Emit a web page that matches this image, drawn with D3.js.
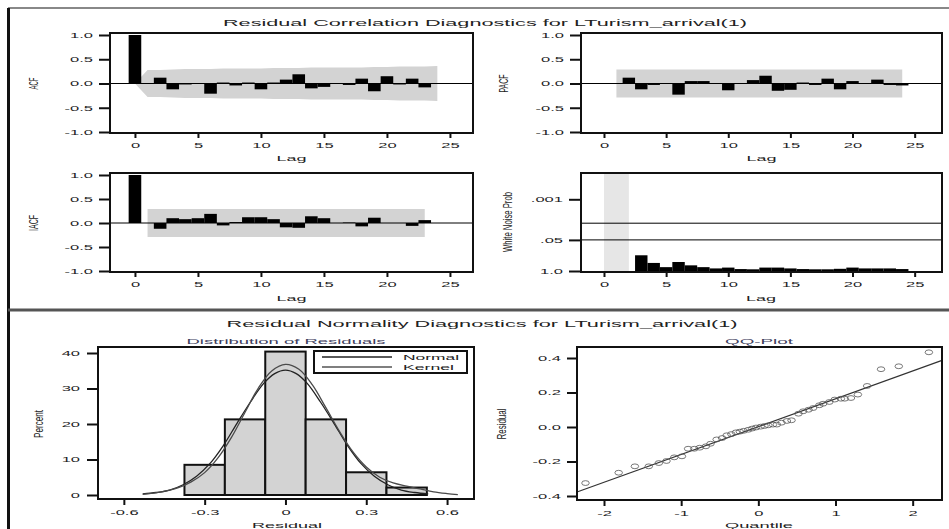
<!DOCTYPE html>
<html>
<head>
<meta charset="utf-8">
<script src="https://cdn.jsdelivr.net/npm/d3@7"></script>
<style>
  body { margin: 0; background: #fff; }
  text { font-family: "Liberation Sans", Arial, sans-serif; fill: #222; }
</style>
</head>
<body>
<div id="vis"></div>
<script>
// ---- values ----
var acfLags  = [0,1,2,3,4,5,6,7,8,9,10,11,12,13,14,15,16,17,18,19,20,21,22,23,24];
var acfVals  = [1.00,-0.01,0.12,-0.12,-0.02,0.01,-0.21,0.02,-0.04,0.02,-0.12,0.02,0.08,0.19,-0.10,-0.07,0.00,-0.03,0.10,-0.16,0.15,-0.02,0.10,-0.08,-0.01];
var acfBand  = [0,0.28,0.28,0.29,0.30,0.30,0.30,0.31,0.31,0.31,0.31,0.32,0.32,0.32,0.33,0.33,0.33,0.33,0.33,0.34,0.34,0.35,0.35,0.35,0.36];

var pacfLags = [1,2,3,4,5,6,7,8,9,10,11,12,13,14,15,16,17,18,19,20,21,22,23,24];
var pacfVals = [-0.01,0.12,-0.12,-0.03,0.01,-0.23,0.05,0.05,0.00,-0.14,0.01,0.07,0.16,-0.15,-0.13,0.02,-0.03,0.10,-0.12,0.05,0.01,0.08,-0.03,-0.04];
var pacfBand = [0.29,0.29];          // constant limit, lag 1 .. 24
var pacfBandLags = [1,24];

var iacfLags = [0,1,2,3,4,5,6,7,8,9,10,11,12,13,14,15,16,17,18,19,20,21,22,23];
var iacfVals = [1.00,0.00,-0.12,0.10,0.08,0.10,0.19,-0.05,0.02,0.12,0.12,0.08,-0.09,-0.10,0.14,0.10,0.00,0.01,-0.07,0.11,0.00,0.00,-0.06,0.06];
var iacfBand = [0.29,0.29];
var iacfBandLags = [1,23];

var wnLags  = [3,4,5,6,7,8,9,10,11,12,13,14,15,16,17,18,19,20,21,22,23,24];
var wnProb  = [0.22,0.46,0.69,0.42,0.58,0.69,0.78,0.72,0.83,0.85,0.72,0.72,0.78,0.83,0.85,0.85,0.81,0.72,0.78,0.78,0.78,0.83];
var wnShade = [0,2];
var wnLines = [0.01,0.05];

var binMid   = [-0.3,-0.15,0,0.15,0.3,0.45];
var binPct   = [8.5,21.3,40.4,21.3,6.4,2.1];
var binWidth = 0.15;

var normX = [-0.53,-0.48,-0.43,-0.38,-0.33,-0.28,-0.23,-0.18,-0.13,-0.08,-0.04,0,0.04,0.08,0.13,0.18,0.23,0.28,0.33,0.38,0.43,0.48,0.53];
var normY = [0.3,0.7,1.4,2.9,5.3,8.9,14.0,20.2,26.2,31.5,34.2,35.2,34.2,31.5,26.2,20.2,14.0,8.9,5.3,2.9,1.4,0.7,0.3];
var kernX = [-0.53,-0.46,-0.40,-0.35,-0.30,-0.25,-0.20,-0.15,-0.10,-0.05,0,0.05,0.10,0.15,0.20,0.25,0.30,0.35,0.40,0.45,0.50,0.55,0.60,0.64];
var kernY = [0.2,0.9,2.0,3.7,6.3,10.5,16.3,23.3,30.2,35.0,36.8,35.4,31.0,24.6,18.0,12.2,7.9,5.0,3.4,2.5,1.7,0.9,0.4,0.1];

var qqX = [-2.24,-1.81,-1.60,-1.42,-1.29,-1.19,-1.09,-0.99,-0.91,-0.83,-0.76,-0.68,-0.62,-0.54,-0.47,-0.41,-0.35,-0.29,-0.24,-0.19,-0.13,-0.08,-0.03,
           0.03,0.08,0.13,0.19,0.24,0.30,0.37,0.43,0.52,0.58,0.65,0.71,0.79,0.84,0.92,0.99,1.07,1.12,1.20,1.29,1.41,1.59,1.82,2.21];
var qqY = [-0.325,-0.265,-0.228,-0.228,-0.209,-0.197,-0.176,-0.170,-0.126,-0.126,-0.120,-0.112,-0.097,-0.072,-0.064,-0.048,-0.041,-0.031,-0.027,-0.022,-0.016,-0.009,-0.003,
           0.002,0.006,0.010,0.014,0.014,0.025,0.035,0.039,0.077,0.091,0.100,0.110,0.126,0.135,0.145,0.159,0.164,0.164,0.168,0.188,0.238,0.335,0.352,0.433];
var qqLineX = [-2.35,2.38];
var qqLineY = [-0.377,0.386];

var title1 = "Residual Correlation Diagnostics for LTurism_arrival(1)";
var title2 = "Residual Normality Diagnostics for LTurism_arrival(1)";

// ---- drawing ----
var W = 949, H = 529;
var svg = d3.select("#vis").append("svg").attr("width", W).attr("height", H);

// the source picture is stretched about 2.2x horizontally
var SX = 2.2;
function stretch(sel) {
  sel.each(function() {
    var L = this.getComputedTextLength();
    d3.select(this).attr("textLength", L * SX).attr("lengthAdjust", "spacingAndGlyphs");
  });
}

function label(x, y, str, fs, len, anchor, color) {
  return svg.append("text")
    .attr("x", x).attr("y", y)
    .attr("font-size", fs)
    .attr("text-anchor", anchor || "middle")
    .attr("textLength", len).attr("lengthAdjust", "spacingAndGlyphs")
    .style("fill", color || "#222")
    .text(str);
}

function vlabel(x, y, str, len) {
  return svg.append("text")
    .attr("transform", `translate(${x},${y}) rotate(-90) scale(1,1.7)`)
    .attr("font-size", 8)
    .attr("text-anchor", "middle")
    .attr("dominant-baseline", "central")
    .attr("textLength", len).attr("lengthAdjust", "spacingAndGlyphs")
    .text(str);
}

function styleAxis(g) {
  g.select(".domain").remove();
  g.selectAll(".tick line").attr("stroke", "#111").attr("stroke-width", 2);
  g.selectAll(".tick text").attr("font-size", 7.5).attr("fill", "#222").call(stretch);
}

function frame(x0, y0, x1, y1) {
  svg.append("rect")
    .attr("x", x0).attr("y", y0)
    .attr("width", x1 - x0).attr("height", y1 - y0)
    .attr("fill", "none").attr("stroke", "#111").attr("stroke-width", 2);
}

var fmt1 = d => d.toFixed(1);
var fmtInt = d => String(d);

// outer border lines
svg.append("line").attr("x1", 8).attr("x2", W).attr("y1", 8).attr("y2", 8).attr("stroke", "#888").attr("stroke-width", 2);
svg.append("line").attr("x1", 8.5).attr("x2", 8.5).attr("y1", 8).attr("y2", H).attr("stroke", "#111").attr("stroke-width", 3);
svg.append("line").attr("x1", 8).attr("x2", W).attr("y1", 310).attr("y2", 310).attr("stroke", "#555").attr("stroke-width", 3);

label(485, 26, title1, 9.5, 524);
label(482, 327, title2, 9.5, 511);

// scales for lag panels
var xL = d3.scaleLinear().domain([-1.98, 26.83]).range([110, 473]);
var xR = d3.scaleLinear().domain([-1.85, 27.2]).range([581, 942]);
var yTop = d3.scaleLinear().domain([-1, 1]).range([132, 35]);
var yMid = d3.scaleLinear().domain([-1, 1]).range([271, 175]);

function corrPanel(x, y, lags, vals, bandLags, band, box, name, nameLen, nameX, lagY) {
  var g = svg.append("g");
  g.append("path")
    .datum(bandLags)
    .attr("fill", "#d3d3d3")
    .attr("d", d3.area()
      .x(d => x(d))
      .y0((d, i) => y(-band[i]))
      .y1((d, i) => y(band[i])));

  g.selectAll("rect.bar")
    .data(lags)
    .join("rect")
      .attr("class", "bar")
      .attr("fill", "#000")
      .attr("x", d => x(d - 0.5))
      .attr("width", d => x(d + 0.5) - x(d - 0.5))
      .attr("y", (d, i) => y(Math.max(0, vals[i])))
      .attr("height", (d, i) => Math.abs(y(vals[i]) - y(0)));

  g.append("line")
    .attr("x1", box[0]).attr("x2", box[2])
    .attr("y1", y(0)).attr("y2", y(0))
    .attr("stroke", "#000").attr("stroke-width", 1);

  svg.append("g")
    .attr("transform", `translate(${box[0]},0)`)
    .call(d3.axisLeft(y).tickValues([-1, -0.5, 0, 0.5, 1]).tickFormat(fmt1).tickSize(11).tickPadding(6))
    .call(styleAxis);
  svg.append("g")
    .attr("transform", `translate(0,${box[3]})`)
    .call(d3.axisBottom(x).tickValues([0, 5, 10, 15, 20, 25]).tickFormat(fmtInt).tickSize(5).tickPadding(5))
    .call(styleAxis);

  frame(box[0], box[1], box[2], box[3]);
  vlabel(nameX, y(0), name, nameLen);
  label((box[0] + box[2]) / 2, lagY, "Lag", 7.5, 30);
}

corrPanel(xL, yTop, acfLags, acfVals, acfLags, acfBand, [110, 33, 473, 133], "ACF", 12, 33, 160.5);
corrPanel(xR, yTop, pacfLags, pacfVals, pacfBandLags, pacfBand, [581, 33, 942, 133], "PACF", 18, 503, 160.5);
corrPanel(xL, yMid, iacfLags, iacfVals, iacfBandLags, iacfBand, [110, 173, 473, 272], "IACF", 16, 33, 300.5);

// white noise panel
(function() {
  var box = [581, 173, 942, 272];
  var y = d3.scaleLog().domain([1, Math.pow(10, -4.1)]).range([271, 173]);
  svg.append("rect")
    .attr("x", xR(wnShade[0])).attr("width", xR(wnShade[1]) - xR(wnShade[0]))
    .attr("y", box[1]).attr("height", box[3] - box[1])
    .attr("fill", "#e6e6e6");
  svg.append("g").selectAll("rect")
    .data(wnLags)
    .join("rect")
      .attr("fill", "#000")
      .attr("x", d => xR(d - 0.5))
      .attr("width", d => xR(d + 0.5) - xR(d - 0.5))
      .attr("y", (d, i) => y(wnProb[i]))
      .attr("height", (d, i) => y(1) - y(wnProb[i]));
  svg.append("g").selectAll("line")
    .data(wnLines)
    .join("line")
      .attr("x1", box[0]).attr("x2", box[2])
      .attr("y1", d => y(d)).attr("y2", d => y(d))
      .attr("stroke", "#000").attr("stroke-width", 1);
  svg.append("g")
    .attr("transform", `translate(${box[0]},0)`)
    .call(d3.axisLeft(y).tickValues([0.001, 0.05, 1]).tickFormat(d => d === 1 ? "1.0" : String(d).replace(/^0/, "")).tickSize(12).tickPadding(6))
    .call(styleAxis);
  svg.append("g")
    .attr("transform", `translate(0,${box[3]})`)
    .call(d3.axisBottom(xR).tickValues([0, 5, 10, 15, 20, 25]).tickFormat(fmtInt).tickSize(5).tickPadding(5))
    .call(styleAxis);
  frame(box[0], box[1], box[2], box[3]);
  vlabel(507, 222, "White Noise Prob", 60);
  label(761, 300.5, "Lag", 7.5, 30);
})();

// histogram panel
(function() {
  var box = [98, 347, 474, 499];
  var x = d3.scaleLinear().domain([-0.696, 0.70]).range([98, 474]);
  var y = d3.scaleLinear().domain([0, 40]).range([495, 353]);

  svg.append("g").selectAll("rect")
    .data(binMid)
    .join("rect")
      .attr("fill", "#d3d3d3").attr("stroke", "#111").attr("stroke-width", 2)
      .attr("x", d => x(d - binWidth / 2))
      .attr("width", d => x(d + binWidth / 2) - x(d - binWidth / 2))
      .attr("y", (d, i) => y(binPct[i]))
      .attr("height", (d, i) => y(0) - y(binPct[i]));

  var line = d3.line().curve(d3.curveCatmullRom);
  svg.append("path")
    .attr("fill", "none").attr("stroke", "#222").attr("stroke-width", 1.3)
    .attr("d", line(normX.map((v, i) => [x(v), y(normY[i])])));
  svg.append("path")
    .attr("fill", "none").attr("stroke", "#4a4a4a").attr("stroke-width", 1.3)
    .attr("d", line(kernX.map((v, i) => [x(v), y(kernY[i])])));

  svg.append("g")
    .attr("transform", `translate(${box[0]},0)`)
    .call(d3.axisLeft(y).tickValues([0, 10, 20, 30, 40]).tickFormat(fmtInt).tickSize(11).tickPadding(7))
    .call(styleAxis);
  svg.append("g")
    .attr("transform", `translate(0,${box[3]})`)
    .call(d3.axisBottom(x).tickValues([-0.6, -0.3, 0, 0.3, 0.6]).tickFormat(d => d === 0 ? "0" : d.toFixed(1)).tickSize(6).tickPadding(5))
    .call(styleAxis);
  frame(box[0], box[1], box[2], box[3]);

  // legend
  svg.append("rect").attr("x", 314).attr("y", 351).attr("width", 153).attr("height", 22)
    .attr("fill", "#fff").attr("stroke", "#111").attr("stroke-width", 2);
  svg.append("line").attr("x1", 322).attr("x2", 392).attr("y1", 357).attr("y2", 357).attr("stroke", "#222").attr("stroke-width", 1.3);
  svg.append("line").attr("x1", 322).attr("x2", 392).attr("y1", 367).attr("y2", 367).attr("stroke", "#555").attr("stroke-width", 1.3);
  label(403, 360, "Normal", 7.5, 56, "start");
  label(403, 370, "Kernel", 7.5, 51, "start");

  label(286, 344, "Distribution of Residuals", 7.5, 199, "middle", "#3d3d5c");
  vlabel(38, 424, "Percent", 28);
  label(287, 528, "Residual", 7.5, 70);
})();

// QQ panel
(function() {
  var box = [577, 347, 942, 500];
  var x = d3.scaleLinear().domain([-2.35, 2.38]).range([577, 942]);
  var y = d3.scaleLinear().domain([-0.4, 0.4]).range([496, 358]);

  svg.append("line")
    .attr("x1", x(qqLineX[0])).attr("x2", x(qqLineX[1]))
    .attr("y1", y(qqLineY[0])).attr("y2", y(qqLineY[1]))
    .attr("stroke", "#333").attr("stroke-width", 1.2);

  svg.append("g").selectAll("ellipse")
    .data(qqX)
    .join("ellipse")
      .attr("cx", d => x(d))
      .attr("cy", (d, i) => y(qqY[i]))
      .attr("rx", 3.8).attr("ry", 2.4)
      .attr("fill", "none").attr("stroke", "#555").attr("stroke-width", 0.8);

  svg.append("g")
    .attr("transform", `translate(${box[0]},0)`)
    .call(d3.axisLeft(y).tickValues([-0.4, -0.2, 0, 0.2, 0.4]).tickFormat(fmt1).tickSize(10).tickPadding(6))
    .call(styleAxis);
  svg.append("g")
    .attr("transform", `translate(0,${box[3]})`)
    .call(d3.axisBottom(x).tickValues([-2, -1, 0, 1, 2]).tickFormat(fmtInt).tickSize(6).tickPadding(5))
    .call(styleAxis);
  frame(box[0], box[1], box[2], box[3]);

  label(759, 344, "QQ-Plot", 7.5, 68, "middle", "#3d3d5c");
  vlabel(501, 424, "Residual", 31);
  label(759, 528, "Quantile", 7.5, 68);
})();
</script>
</body>
</html>
